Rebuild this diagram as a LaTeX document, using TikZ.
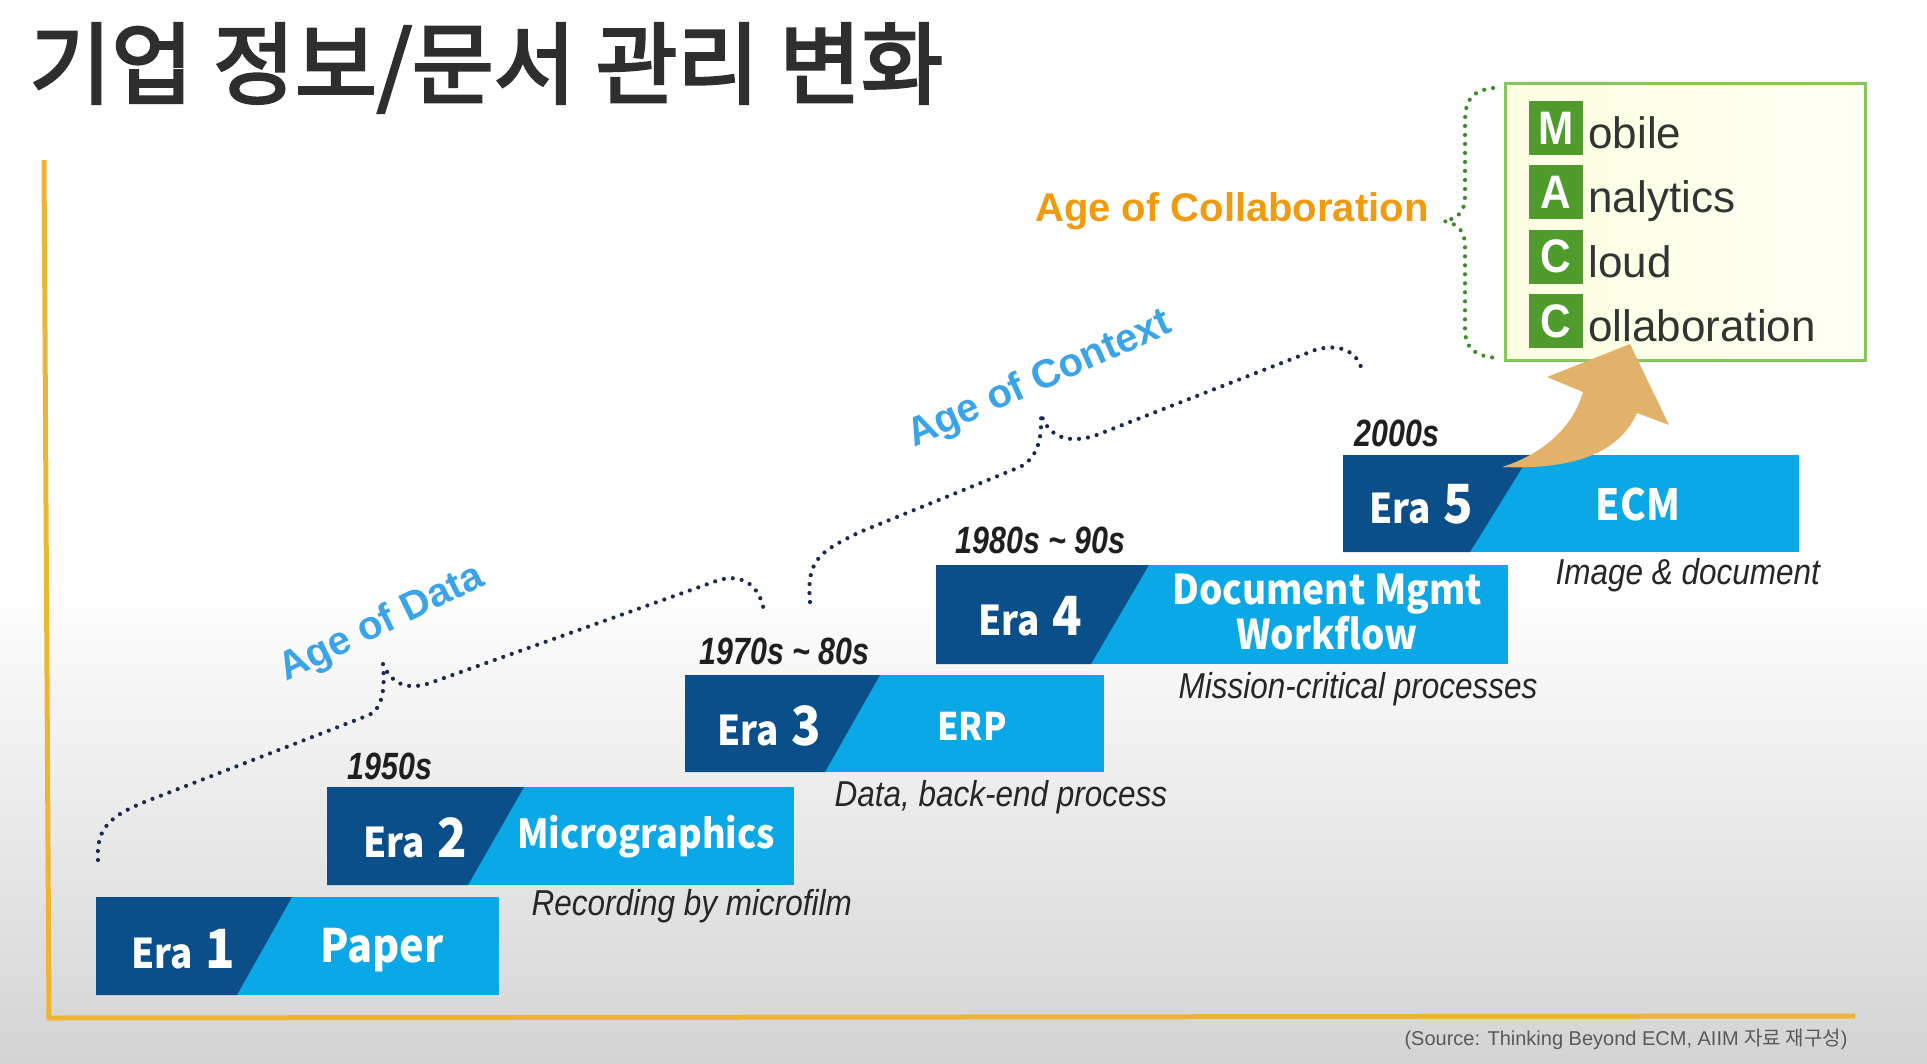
\documentclass[tikz,border=0pt]{standalone}
\usepackage{fontspec}
\setmainfont{Liberation Sans}
\newfontfamily\krfont{Noto Sans CJK KR}
\newfontfamily\krtitle[FakeBold=3]{Noto Sans CJK KR}
\newfontfamily\krnarrow[FakeStretch=0.9]{Noto Sans CJK KR}
\newfontfamily\narrowfont[FakeStretch=0.8]{Liberation Sans}
\newfontfamily\notefont[FakeStretch=0.875]{Liberation Sans}
\newfontfamily\letterfont[FakeStretch=0.9]{Liberation Sans}
\usepackage{xcolor}
\usetikzlibrary{arrows.meta,positioning,shapes.geometric}

\definecolor{eradark}{HTML}{0B4F8A}
\definecolor{eralight}{HTML}{0AA8E6}
\definecolor{axisgold}{HTML}{F0B433}
\definecolor{ageblue}{HTML}{3BA4E8}
\definecolor{ageorange}{HTML}{F09A0E}
\definecolor{maccgreen}{HTML}{4F9B2C}
\definecolor{boxgreen}{HTML}{86C65A}
\definecolor{bracenavy}{HTML}{1B2A4E}
\definecolor{bracegreen}{HTML}{3D8B2A}
\definecolor{arrowtan}{HTML}{E3B26A}

\begin{document}
\begin{tikzpicture}[x=1pt, y=-1pt,
  erabox/.style={fill=eralight, inner sep=0pt, outer sep=0pt, anchor=north west},
  eranum/.style={text=white, font=\krnarrow\bfseries\fontsize{41}{41}\selectfont},
  eraname/.style={text=white, align=center, font=\krnarrow\bfseries\fontsize{#1}{#1}\selectfont},
  eraname/.default=44,
  period/.style={text=black!88, anchor=west, font=\narrowfont\bfseries\itshape\fontsize{38}{38}\selectfont},
  note/.style={text=black!85, anchor=west, font=\notefont\itshape\fontsize{36}{36}\selectfont},
  age/.style={text=ageblue, font=\bfseries\fontsize{40}{40}\selectfont},
  brace/.style={draw=bracenavy, line width=4.2pt, line cap=round, dash pattern=on 0pt off 9pt},
  letter/.style={fill=maccgreen, text=white, minimum size=54pt, inner sep=0pt, font=\letterfont\bfseries\fontsize{47}{47}\selectfont},
  word/.style={text=black!80, inner sep=0pt, font=\fontsize{44}{44}\selectfont}]
\useasboundingbox (0,0) rectangle (1927,1063);
\fill[white] (0,0) rectangle (1927,1063);
\shade[top color=white, bottom color=black!17] (0,580) rectangle (1927,1063);

\node[anchor=west, text=black!82, font=\krtitle\fontsize{89}{89}\selectfont] (title) at (26,68) {기업 정보/문서 관리 변화};

% axis
\coordinate (axtop) at (44,160);
\coordinate (axcorner) at (49,1018);
\coordinate (axend) at (1855,1016);
\draw[axisgold, line width=5pt] (axtop) -- (axcorner) -- (axend);

% eras
\node[erabox, minimum width=403pt, minimum height=98pt] (era1) at (96,897) {};
\fill[eradark] (era1.north west) -- ++(196,0) -- ++(-55,98) -- (era1.south west) -- cycle;
\node[erabox, minimum width=467pt, minimum height=98pt] (era2) at (327,787) {};
\fill[eradark] (era2.north west) -- ++(197,0) -- ++(-56,98) -- (era2.south west) -- cycle;
\node[erabox, minimum width=419pt, minimum height=97pt] (era3) at (685,675) {};
\fill[eradark] (era3.north west) -- ++(195,0) -- ++(-55,97) -- (era3.south west) -- cycle;
\node[erabox, minimum width=572pt, minimum height=99pt] (era4) at (936,565) {};
\fill[eradark] (era4.north west) -- ++(213,0) -- ++(-58,99) -- (era4.south west) -- cycle;
\node[erabox, minimum width=456pt, minimum height=97pt] (era5) at (1343,455) {};
\fill[eradark] (era5.north west) -- ++(187,0) -- ++(-60,97) -- (era5.south west) -- cycle;

\node[eranum] (num1) at (183,949) {Era\hspace{.3em}{\fontsize{54}{54}\selectfont 1}};
\node[eranum] (num2) at (415,838) {Era\hspace{.3em}{\fontsize{54}{54}\selectfont 2}};
\node[eranum] (num3) at (769,726) {Era\hspace{.3em}{\fontsize{54}{54}\selectfont 3}};
\node[eranum] (num4) at (1030,616) {Era\hspace{.3em}{\fontsize{54}{54}\selectfont 4}};
\node[eranum] (num5) at (1421,504) {Era\hspace{.3em}{\fontsize{54}{54}\selectfont 5}};

\node[eraname=46] (name1) at (382,950) {Paper};
\node[eraname=40] (name2) at (646,837) {Micrographics};
\node[eraname=38] (name3) at (972,726) {ERP};
\node[eraname=41] (name4) at (1327,612) {Document Mgmt\\Workflow};
\node[eraname=43] (name5) at (1638,504) {ECM};

\node[period] (per2) at (344,766) {1950s};
\node[period] (per3) at (696,651) {1970s \textasciitilde{} 80s};
\node[period] (per4) at (952,540) {1980s \textasciitilde{} 90s};
\node[period] (per5) at (1351,433) {2000s};

\node[note] (note2) at (528,906) {Recording by microfilm};
\node[note] (note3) at (831,797) {Data, back-end process};
\node[note] (note4) at (1175,689) {Mission-critical processes};
\node[note] (note5) at (1552,575) {Image \& document};

% ages
\node[age, rotate=26] (agedata) at (382,624) {Age of Data};
\node[age, rotate=24] (agecontext) at (1040,380) {Age of Context};
\node[age, text=ageorange, anchor=east] (agecollab) at (1432,211) {Age of Collaboration};

\coordinate (dataL) at (98,860);
\coordinate (dataTip) at (383,664);
\coordinate (dataR) at (764,611);
\draw[brace] (dataL) .. controls (96,826) and (111,814) .. (160,796) -- (369,715)
  .. controls (383,708) and (385,688) .. (dataTip)
  .. controls (391,683) and (406,691) .. (430,683) -- (719,580)
  .. controls (744,573) and (760,587) .. (dataR);

\coordinate (ctxL) at (810,602);
\coordinate (ctxTip) at (1041,414);
\coordinate (ctxR) at (1362,371);
\draw[brace] (ctxL) .. controls (806,559) and (821,551) .. (860,532) -- (1020,467)
  .. controls (1039,457) and (1042,436) .. (ctxTip)
  .. controls (1047,433) and (1063,445) .. (1094,436) -- (1315,350)
  .. controls (1342,342) and (1359,354) .. (ctxR);

% MACC box
\node[draw=boxgreen, line width=3pt, left color=green!10!yellow!12, right color=green!4!yellow!5, minimum width=360pt, minimum height=277pt, anchor=north west] (macc) at (1504,82) {};
\coordinate (colTop) at (1493,88);
\coordinate (colTip) at (1444,221);
\coordinate (colBot) at (1497,358);
\draw[brace, draw=bracegreen] (colTop) .. controls (1469,91) and (1465,103) .. (1465,123) -- (1465,197)
  .. controls (1465,211) and (1458,219) .. (colTip)
  .. controls (1458,224) and (1465,231) .. (1465,246) -- (1465,329)
  .. controls (1465,349) and (1475,356) .. (colBot);

\node[letter] (sqm) at (1556,128) {M};
\node[letter, below=10pt of sqm] (sqa) {A};
\node[letter, below=10pt of sqa] (sqc) {C};
\node[letter, below=10pt of sqc] (sqcc) {C};
\node[word, above right=7pt and 5pt of sqm.south east, anchor=base west] (wm) {obile};
\node[word, above right=7pt and 5pt of sqa.south east, anchor=base west] (wa) {nalytics};
\node[word, above right=7pt and 5pt of sqc.south east, anchor=base west] (wc) {loud};
\node[word, above right=7pt and 5pt of sqcc.south east, anchor=base west] (wcc) {ollaboration};

% curved arrow
\fill[arrowtan] (1502,467) .. controls (1540,455) and (1572,430) .. (1583,392) -- (1547,377) -- (1630,344)
  -- (1669,425) -- (1637,413) .. controls (1620,450) and (1580,470) .. (1502,467) -- cycle;

\node[anchor=east, text=black!65, font=\fontsize{20}{20}\selectfont] (source) at (1851,1039) {(Source: Thinking Beyond ECM, AIIM {\krfont 자료 재구성})};
\end{tikzpicture}
\end{document}
